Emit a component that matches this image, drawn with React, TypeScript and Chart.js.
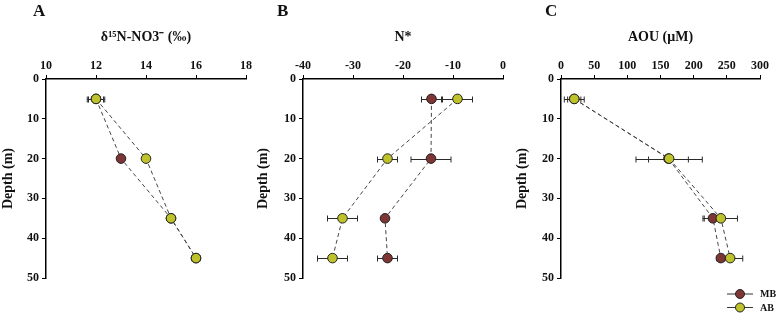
import React, { useEffect, useRef } from "react";
import { Chart, registerables } from "chart.js";

Chart.register(...registerables);

// ---- data ----
const depths = [5, 20, 35, 45];
const seriesNames = ["MB", "AB"];

// Panel A: δ15N-NO3-
const mbA = [12, 13, 15, 16];
const abA = [12, 14, 15, 16];
const mbAErr = [0.3, 0.05, 0.05, 0.1];
const abAErr = [0.35, 0.05, 0.05, 0.15];

// Panel B: N*
const mbB = [-14.3, -14.4, -23.6, -23.1];
const abB = [-9.1, -23.1, -32.1, -34.1];
const mbBErr = [2, 4, 0.5, 2];
const abBErr = [3, 2, 3, 3];

// Panel C: AOU (µM)
const mbC = [20, 162, 229, 241];
const abC = [20, 163, 241, 255];
const mbCErr = [10, 30, 15, 6];
const abCErr = [15, 50, 25, 19];

const MB_COLOR = "#7e3535";
const AB_COLOR = "#bec22b";
const FONT = "'Liberation Serif', 'Times New Roman', serif";

type PanelCfg = {
  left: number;
  width: number;
  yWidth: number;
  padRight: number;
  title: string;
  xMin: number;
  xMax: number;
  xStep: number;
  mb: number[];
  ab: number[];
  mbErr: number[];
  abErr: number[];
  legend: boolean;
  letter: string;
  letterX: number;
};

const panels: PanelCfg[] = [
  { left: 0, width: 260, yWidth: 46, padRight: 14, title: "δ¹⁵N-NO3⁻ (‰)", xMin: 10, xMax: 18, xStep: 2, mb: mbA, ab: abA, mbErr: mbAErr, abErr: abAErr, legend: false, letter: "A", letterX: 33 },
  { left: 255, width: 260, yWidth: 48, padRight: 12, title: "N*", xMin: -40, xMax: 0, xStep: 10, mb: mbB, ab: abB, mbErr: mbBErr, abErr: abBErr, legend: false, letter: "B", letterX: 277 },
  { left: 514, width: 264, yWidth: 47, padRight: 18, title: "AOU (μM)", xMin: 0, xMax: 300, xStep: 50, mb: mbC, ab: abC, mbErr: mbCErr, abErr: abCErr, legend: true, letter: "C", letterX: 545 },
];

function Panel({ cfg }: { cfg: PanelCfg }) {
  const ref = useRef<HTMLCanvasElement>(null);
  useEffect(() => {
    if (!ref.current) return;
    const errs = [cfg.mbErr, cfg.abErr];
    const vals = [cfg.mb, cfg.ab];
    const errorBars = {
      id: "errorBars",
      beforeDatasetsDraw(chart: any) {
        const ctx = chart.ctx;
        const xs = chart.scales.x;
        const ys = chart.scales.y;
        ctx.save();
        ctx.strokeStyle = "#2a2a2a";
        ctx.lineWidth = 1;
        for (let i = 0; i < 2; i++) {
          for (let j = 0; j < depths.length; j++) {
            const e = errs[i][j];
            if (!e) continue;
            const v = vals[i][j];
            const y = Math.round(ys.getPixelForValue(depths[j])) + 0.5;
            const x1 = xs.getPixelForValue(v - e);
            const x2 = xs.getPixelForValue(v + e);
            ctx.beginPath();
            ctx.moveTo(x1, y);
            ctx.lineTo(x2, y);
            ctx.moveTo(x1, y - 3);
            ctx.lineTo(x1, y + 3);
            ctx.moveTo(x2, y - 3);
            ctx.lineTo(x2, y + 3);
            ctx.stroke();
          }
        }
        ctx.restore();
      },
    };
    const legendPlugin = {
      id: "customLegend",
      afterDraw(chart: any) {
        if (!cfg.legend) return;
        const ctx = chart.ctx;
        ctx.save();
        chart.data.datasets.forEach((ds: any, i: number) => {
          const y = 294 + i * 13.5;
          const x0 = 213;
          const x1 = 239;
          ctx.strokeStyle = "#333";
          ctx.lineWidth = 1;
          ctx.beginPath();
          ctx.moveTo(x0, y);
          ctx.lineTo(x1, y);
          ctx.stroke();
          ctx.beginPath();
          ctx.arc((x0 + x1) / 2, y, 4.5, 0, Math.PI * 2);
          ctx.fillStyle = ds.backgroundColor;
          ctx.fill();
          ctx.strokeStyle = "#222";
          ctx.stroke();
          ctx.fillStyle = "#111";
          ctx.font = `bold 10px ${FONT}`;
          ctx.textBaseline = "middle";
          ctx.textAlign = "left";
          ctx.fillText(ds.label, 246, y + 0.5);
        });
        ctx.restore();
      },
    };
    const mkData = (arr: number[]) => arr.map((v, j) => ({ x: v, y: depths[j] }));
    const chart = new Chart(ref.current, {
      type: "scatter",
      data: {
        datasets: [
          {
            label: seriesNames[0],
            data: mkData(cfg.mb),
            showLine: true,
            borderColor: "#444",
            borderWidth: 1,
            borderDash: [4, 3],
            backgroundColor: MB_COLOR,
            pointBackgroundColor: MB_COLOR,
            pointBorderColor: "#222",
            pointBorderWidth: 1,
            pointRadius: 4.8,
            order: 1,
          } as any,
          {
            label: seriesNames[1],
            data: mkData(cfg.ab),
            showLine: true,
            borderColor: "#444",
            borderWidth: 1,
            borderDash: [4, 3],
            backgroundColor: AB_COLOR,
            pointBackgroundColor: AB_COLOR,
            pointBorderColor: "#222",
            pointBorderWidth: 1,
            pointRadius: 4.8,
            order: 0,
          } as any,
        ],
      },
      options: {
        animation: false,
        responsive: false,
        maintainAspectRatio: false,
        layout: { padding: { left: 0, top: 0, right: cfg.padRight, bottom: 37 } },
        plugins: { legend: { display: false }, tooltip: { enabled: false } },
        scales: {
          x: {
            type: "linear",
            position: "top",
            min: cfg.xMin,
            max: cfg.xMax,
            ticks: {
              stepSize: cfg.xStep,
              color: "#111",
              font: { family: FONT, size: 12, weight: "bold" },
              padding: 2,
            },
            grid: { display: true, drawOnChartArea: false, drawTicks: true, tickLength: 4, color: "#000" },
            border: { display: true, color: "#000", width: 1.5 },
            title: {
              display: true,
              text: cfg.title,
              color: "#111",
              font: { family: FONT, size: 14, weight: "bold" },
              padding: { top: 29, bottom: 0 },
            },
            afterFit: (s: any) => {
              s.height = 79;
            },
          },
          y: {
            type: "linear",
            reverse: true,
            min: 0,
            max: 50,
            ticks: {
              stepSize: 10,
              color: "#111",
              font: { family: FONT, size: 12, weight: "bold" },
              padding: 3,
            },
            grid: { display: true, drawOnChartArea: false, drawTicks: true, tickLength: 4, color: "#000" },
            border: { display: true, color: "#000", width: 1.5 },
            title: {
              display: true,
              text: "Depth (m)",
              color: "#111",
              font: { family: FONT, size: 14, weight: "bold" },
              padding: { top: 0, bottom: 0 },
            },
            afterFit: (s: any) => {
              s.width = cfg.yWidth;
            },
          },
        },
      } as any,
      plugins: [errorBars, legendPlugin],
    });
    return () => chart.destroy();
  }, [cfg]);
  return (
    <>
      <canvas
        ref={ref}
        width={cfg.width}
        height={315}
        style={{ position: "absolute", left: cfg.left, top: 0, width: cfg.width, height: 315 }}
      />
      <div
        style={{
          position: "absolute",
          left: cfg.letterX,
          top: 2,
          fontFamily: FONT,
          fontWeight: "bold",
          fontSize: 17,
          lineHeight: "17px",
          color: "#111",
        }}
      >
        {cfg.letter}
      </div>
    </>
  );
}

export default function App() {
  return (
    <div style={{ position: "absolute", left: 0, top: 0, width: 778, height: 315, background: "#fff", overflow: "hidden" }}>
      {panels.map((p) => (
        <Panel key={p.letter} cfg={p} />
      ))}
    </div>
  );
}
